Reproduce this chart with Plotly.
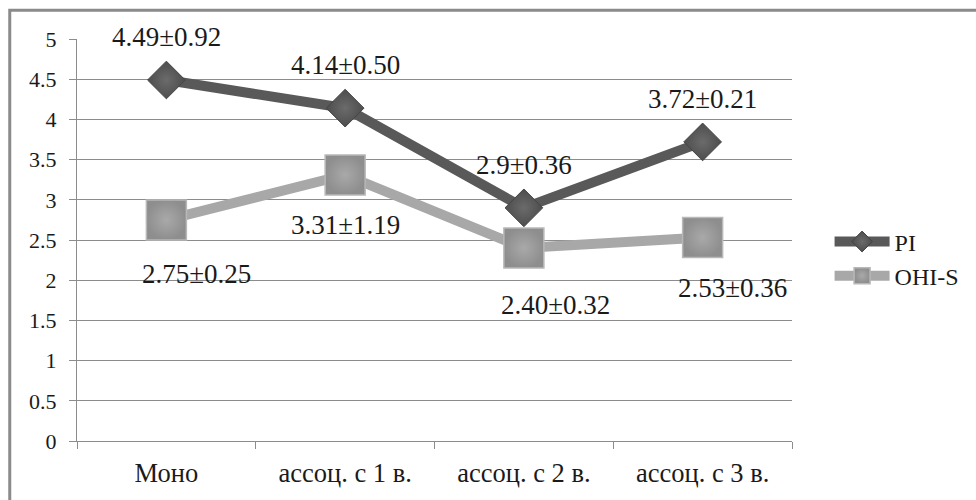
import plotly.graph_objects as go

# Groups along the x axis
categories = ["Моно", "ассоц. с 1 в.", "ассоц. с 2 в.", "ассоц. с 3 в."]

# Index means and their spread
pi_mean = [4.49, 4.14, 2.9, 3.72]
pi_err = ["0.92", "0.50", "0.36", "0.21"]
ohis_mean = [2.75, 3.31, 2.40, 2.53]
ohis_err = ["0.25", "1.19", "0.32", "0.36"]
pi_text = ["4.49", "4.14", "2.9", "3.72"]
ohis_text = ["2.75", "3.31", "2.40", "2.53"]

y_ticks = [0, 0.5, 1, 1.5, 2, 2.5, 3, 3.5, 4, 4.5, 5]

FONT = "Liberation Serif"
W, H = 976, 500
ML, MR, MT, MB = 77, 176, 39, 57

fig = go.Figure()

fig.add_trace(go.Scatter(
    x=categories, y=pi_mean, name="PI", mode="lines+markers",
    line=dict(color="#595959", width=10),
    marker=dict(symbol="diamond", size=29, color="#4d4d4d",
                gradient=dict(type="radial", color="#6b6b6b"),
                line=dict(color="#444444", width=1)),
))
fig.add_trace(go.Scatter(
    x=categories, y=ohis_mean, name="OHI-S", mode="lines+markers",
    line=dict(color="#a8a8a8", width=10),
    marker=dict(symbol="square", size=40, color="#8e8e8e",
                gradient=dict(type="radial", color="#a9a9a9"),
                line=dict(color="#b8b8b8", width=1.5)),
))

# Value labels: PI above the points, OHI-S below
ohis_dx = [30, 0, 32, 30]
ohis_dy = [-54, -50, -57, -50]
for i, c in enumerate(categories):
    fig.add_annotation(x=c, y=pi_mean[i], text=f"{pi_text[i]}±{pi_err[i]}",
                       showarrow=False, yshift=43, xanchor="center", yanchor="middle",
                       font=dict(family=FONT, size=27, color="#1a1a1a"))
    fig.add_annotation(x=c, y=ohis_mean[i], text=f"{ohis_text[i]}±{ohis_err[i]}",
                       showarrow=False, xshift=ohis_dx[i], yshift=ohis_dy[i],
                       xanchor="center", yanchor="middle",
                       font=dict(family=FONT, size=27, color="#1a1a1a"))

# Outer frame of the chart
pw, ph = W - ML - MR, H - MT - MB
def px_x(p):
    return (p - ML) / pw
def px_y(p):
    return (H - MB - p) / ph

fig.add_shape(type="rect", xref="paper", yref="paper",
              x0=px_x(9), x1=px_x(990), y0=px_y(515), y1=px_y(10),
              line=dict(color="#8a8a8a", width=3), fillcolor="rgba(0,0,0,0)",
              layer="below")

fig.update_layout(
    width=W, height=H,
    margin=dict(l=ML, r=MR, t=MT, b=MB),
    paper_bgcolor="white", plot_bgcolor="white",
    font=dict(family=FONT, size=22, color="#1a1a1a"),
    showlegend=True,
    legend=dict(x=px_x(838), y=px_y(260), xanchor="left", yanchor="middle",
                font=dict(family=FONT, size=24, color="#1a1a1a"),
                bgcolor="rgba(0,0,0,0)", itemwidth=55, tracegroupgap=0),
    xaxis=dict(type="category", range=[-0.5, 3.5], tickson="boundaries",
               ticks="outside", ticklen=7, tickcolor="#8c8c8c", tickwidth=1,
               showline=True, linecolor="#8c8c8c", linewidth=1,
               showgrid=False, ticklabelstandoff=8,
               tickfont=dict(family=FONT, size=26.5, color="#1a1a1a")),
    yaxis=dict(range=[0, 5], tickvals=y_ticks,
               ticktext=[f"{v:g}" for v in y_ticks],
               ticks="outside", ticklen=7, tickcolor="#8c8c8c", tickwidth=1,
               showline=True, linecolor="#8c8c8c", linewidth=1,
               showgrid=True, gridcolor="#8c8c8c", gridwidth=1,
               zeroline=False, ticklabelstandoff=8,
               tickfont=dict(family=FONT, size=22, color="#1a1a1a")),
)

fig.write_html("out.html")
